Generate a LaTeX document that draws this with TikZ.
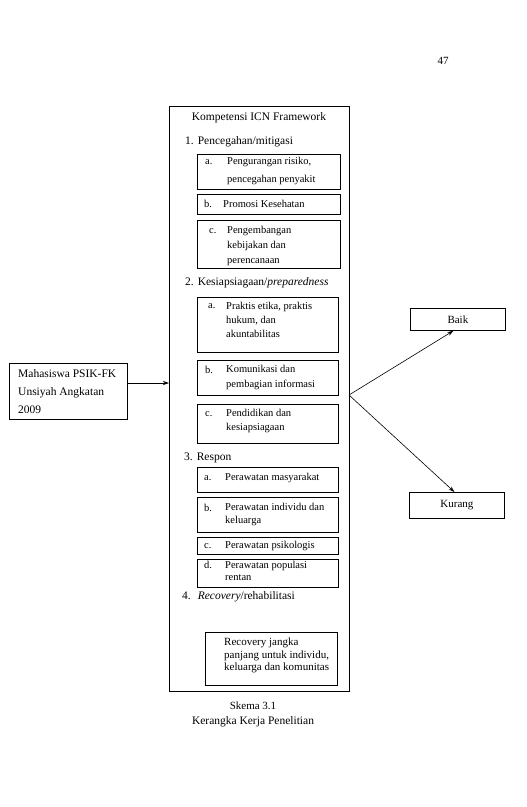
\documentclass[tikz,border=0pt]{standalone}
\usepackage{fontspec}
\setmainfont{Liberation Serif}
\usetikzlibrary{arrows.meta,calc}
\begin{document}
\begin{tikzpicture}[x=1pt,y=-1pt,
  frame/.style={draw, line width=0.8pt, inner sep=0pt, anchor=north west},
  hdr/.style={font=\fontsize{11.5}{14}\selectfont, anchor=west, inner sep=0pt},
  lbl/.style={font=\fontsize{10.5}{13}\selectfont, anchor=west, inner sep=0pt},
  itxt/.style={font=\fontsize{10.5}{#1}\selectfont, anchor=west, inner sep=0pt, align=left},
  itxt/.default=14,
  conn/.style={line width=0.6pt, -{Stealth[length=6pt,width=4pt]}}]
\useasboundingbox (0,0) rectangle (527,807);

% page number
\node[font=\fontsize{11}{13}\selectfont, inner sep=0pt] (pnum) at (443,61) {47};

% big frame
\node[frame, minimum width=180, minimum height=585] (icn) at (169,106) {};
\node[hdr, anchor=center] (title) at (259,118) {Kompetensi ICN Framework};

% section 1
\node[hdr] (h1) at (185,142) {1.\hspace{4pt}Pencegahan/mitigasi};
\node[frame, minimum width=143, minimum height=35] (b1a) at (197,154) {};
\node[lbl] (l1a) at (205,162) {a.};
\node[itxt=18] (t1a) at (227,171) {Pengurangan risiko,\\pencegahan penyakit};
\node[frame, minimum width=143, minimum height=20] (b1b) at (197,194) {};
\node[lbl] (l1b) at (204,204) {b.};
\node[itxt] (t1b) at (223,204) {Promosi Kesehatan};
\node[frame, minimum width=143, minimum height=48] (b1c) at (197,220) {};
\node[lbl] (l1c) at (209,231) {c.};
\node[itxt=15] (t1c) at (227,246) {Pengembangan\\kebijakan dan\\perencanaan};

% section 2
\node[hdr] (h2) at (185,283) {2.\hspace{4pt}Kesiapsiagaan/\textit{preparedness}};
\node[frame, minimum width=141, minimum height=55] (b2a) at (197,297) {};
\node[lbl] (l2a) at (208,306) {a.};
\node[itxt=14] (t2a) at (226,320) {Praktis etika, praktis\\hukum, dan\\akuntabilitas};
\node[frame, minimum width=141, minimum height=35] (b2b) at (197,360) {};
\node[lbl] (l2b) at (205,370) {b.};
\node[itxt=15] (t2b) at (226,377.5) {Komunikasi dan\\pembagian informasi};
\node[frame, minimum width=141, minimum height=39] (b2c) at (197,404) {};
\node[lbl] (l2c) at (205,414) {c.};
\node[itxt=14] (t2c) at (226,421) {Pendidikan dan\\kesiapsiagaan};

% section 3
\node[hdr] (h3) at (184,458) {3.\hspace{4pt}Respon};
\node[frame, minimum width=141, minimum height=25] (b3a) at (197,467) {};
\node[lbl] (l3a) at (204,478) {a.};
\node[itxt] (t3a) at (225,478) {Perawatan masyarakat};
\node[frame, minimum width=141, minimum height=35] (b3b) at (197,497) {};
\node[lbl] (l3b) at (204,508) {b.};
\node[itxt=13] (t3b) at (225,514.5) {Perawatan individu dan\\keluarga};
\node[frame, minimum width=141, minimum height=17] (b3c) at (197,537) {};
\node[lbl] (l3c) at (204,546) {c.};
\node[itxt] (t3c) at (225,546) {Perawatan psikologis};
\node[frame, minimum width=141, minimum height=28] (b3d) at (197,559) {};
\node[lbl] (l3d) at (204,565) {d.};
\node[itxt=11.5] (t3d) at (225,571) {Perawatan populasi\\rentan};

% section 4
\node[hdr] (h4) at (182,597) {4.\hspace{7pt}\textit{Recovery}/rehabilitasi};
\node[frame, minimum width=132, minimum height=53] (b4) at (205,632) {};
\node[font=\fontsize{11}{12.8}\selectfont, anchor=west, inner sep=0pt, align=left] (t4) at (224,655.5) {Recovery jangka\\panjang untuk individu,\\keluarga dan komunitas};

% left box
\node[frame, minimum width=118, minimum height=56] (mhs) at (9,363) {};
\node[font=\fontsize{11.5}{18}\selectfont, anchor=west, inner sep=0pt, align=left] (tmhs) at (18,392) {Mahasiswa PSIK-FK\\Unsiyah Angkatan\\2009};

% right boxes
\node[frame, minimum width=95, minimum height=22] (baik) at (410,308) {};
\node[font=\fontsize{11}{13}\selectfont, inner sep=0pt] (tbaik) at (baik.center) {Baik};
\node[frame, minimum width=95, minimum height=26] (kurang) at (409,492) {};
\node[font=\fontsize{11}{13}\selectfont, inner sep=0pt] (tkurang) at (kurang.center) {Kurang};

% connectors
\coordinate (inA) at (169,383);
\draw[conn] (inA -| mhs.east) -- (inA);
\coordinate (fork) at (349,395);
\draw[conn] (fork) -- ($(baik.south)+(-4.5,0)$);
\draw[conn] (fork) -- ($(kurang.north)+(-2.5,0)$);

% caption
\node[font=\fontsize{11}{13}\selectfont, inner sep=0pt] (cap1) at (253,706) {Skema 3.1};
\node[font=\fontsize{11.5}{13}\selectfont, inner sep=0pt] (cap2) at (253,722) {Kerangka Kerja Penelitian};
\end{tikzpicture}
\end{document}
